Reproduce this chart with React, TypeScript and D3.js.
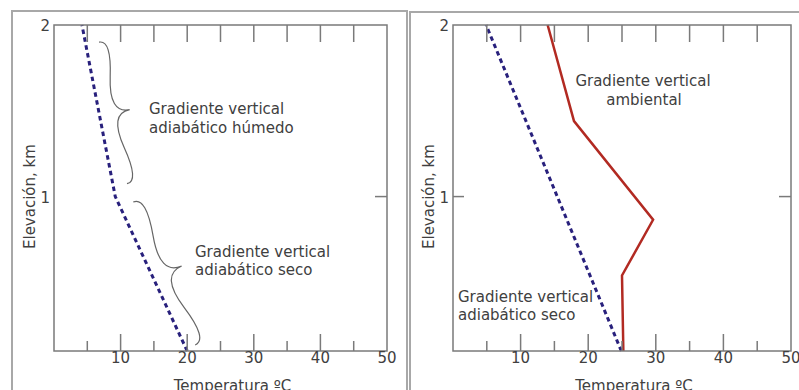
import React from 'react';
import * as d3 from 'd3';

// temperature (ºC) / elevation (km) pairs
const leftAdiabat: [number, number][] = [
  [20, 0.1],
  [9.2, 1.0],
  [4.2, 2.0],
];
const rightAdiabat: [number, number][] = [
  [24.9, 0.1],
  [4.9, 2.0],
];
const ambient: [number, number][] = [
  [25.2, 0.1],
  [25.0, 0.54],
  [29.6, 0.865],
  [17.9, 1.44],
  [14.0, 2.0],
];

const xTicks = [5, 10, 15, 20, 25, 30, 35, 40, 45];
const xTickLabels = [10, 20, 30, 40, 50];
const yTickLabels = [1, 2];

// brace ends [t, z] (lower end first)
const moistBrace: [number, number][] = [
  [10.96, 1.075],
  [6.76, 1.9],
];
const dryBrace: [number, number][] = [
  [21.2, 0.135],
  [11.9, 0.968],
];

const W = 799;
const H = 390;
const FONT = 'DejaVu Sans, Verdana, sans-serif';
const TEXT = '#404040';
const AXIS = '#7a7a7a';

function bracePath(x1: number, y1: number, x2: number, y2: number, w: number, q: number) {
  let dx = x1 - x2;
  let dy = y1 - y2;
  const len = Math.sqrt(dx * dx + dy * dy);
  dx /= len;
  dy /= len;
  const qx1 = x1 + q * w * dy;
  const qy1 = y1 - q * w * dx;
  const qx2 = x1 - 0.25 * len * dx + (1 - q) * w * dy;
  const qy2 = y1 - 0.25 * len * dy - (1 - q) * w * dx;
  const tx = x1 - 0.5 * len * dx + w * dy;
  const ty = y1 - 0.5 * len * dy - w * dx;
  const qx3 = x2 + q * w * dy;
  const qy3 = y2 - q * w * dx;
  const qx4 = x1 - 0.75 * len * dx + (1 - q) * w * dy;
  const qy4 = y1 - 0.75 * len * dy - (1 - q) * w * dx;
  return `M${x1},${y1}Q${qx1},${qy1} ${qx2},${qy2}T${tx},${ty}M${x2},${y2}Q${qx3},${qy3} ${qx4},${qy4}T${tx},${ty}`;
}

type PanelProps = {
  x0: number;
  x1: number;
  leftTick: boolean;
  children: (x: d3.ScaleLinear<number, number>, y: d3.ScaleLinear<number, number>) => React.ReactNode;
};

function Panel({ x0, x1, leftTick, children }: PanelProps) {
  const x = d3.scaleLinear().domain([0, 50]).range([x0, x1]);
  const y = d3.scaleLinear().domain([0.1, 2]).range([351, 25]);
  const bottom = y(0.1);
  const top = y(2);
  const mid = (x0 + x1) / 2;

  return (
    <g>
      {children(x, y)}
      <rect x={x0} y={top} width={x1 - x0} height={bottom - top} fill="none" stroke={AXIS} strokeWidth={1.5} />
      {xTicks.map(t => (
        <g key={t} stroke={AXIS} strokeWidth={1.5}>
          <line x1={x(t)} x2={x(t)} y1={bottom} y2={bottom - (t % 10 === 0 ? 17 : 10)} />
          <line x1={x(t)} x2={x(t)} y1={top} y2={top + 17} />
        </g>
      ))}
      <line x1={x1} x2={x1 - 12} y1={y(1)} y2={y(1)} stroke={AXIS} strokeWidth={1.5} />
      {leftTick && <line x1={x0} x2={x0 + 11} y1={y(1)} y2={y(1)} stroke={AXIS} strokeWidth={1.5} />}
      {xTickLabels.map(t => (
        <text key={t} x={x(t)} y={bottom + 12} textAnchor="middle" fontSize={15} fontFamily={FONT} fill={TEXT}>
          {t}
        </text>
      ))}
      {yTickLabels.map(t => (
        <text key={t} x={x0 - 4} y={y(t) + 6} textAnchor="end" fontSize={15} fontFamily={FONT} fill={TEXT}>
          {t}
        </text>
      ))}
      <text x={mid + 12} y={bottom + 40} textAnchor="middle" fontSize={15} fontFamily={FONT} fill={TEXT}>
        Temperatura ºC
      </text>
      <text
        transform={`translate(${x0 - 19},${y(1)}) rotate(-90)`}
        textAnchor="middle"
        fontSize={15}
        fontFamily={FONT}
        fill={TEXT}
      >
        Elevación, km
      </text>
    </g>
  );
}

export default function App() {
  const line = (x: d3.ScaleLinear<number, number>, y: d3.ScaleLinear<number, number>) =>
    d3
      .line<[number, number]>()
      .x(d => x(d[0]))
      .y(d => y(d[1]));

  const brace = (
    x: d3.ScaleLinear<number, number>,
    y: d3.ScaleLinear<number, number>,
    ends: [number, number][],
    w: number
  ) => bracePath(x(ends[0][0]), y(ends[0][1]), x(ends[1][0]), y(ends[1][1]), w, 0.75);

  const label = { fontSize: 15, fontFamily: FONT, fill: TEXT };

  return (
    <svg width={W} height={H} style={{ position: 'absolute', left: 0, top: 0, background: '#fff' }}>
      <rect x={12} y={11} width={395} height={400} fill="none" stroke="#a8a8a8" strokeWidth={2} />
      <rect x={410} y={12} width={400} height={400} fill="none" stroke="#a8a8a8" strokeWidth={2} />

      <Panel x0={54} x1={387} leftTick={false}>
        {(x, y) => (
          <g>
            <path d={brace(x, y, moistBrace, 17)} fill="none" stroke="#666" strokeWidth={1.2} />
            <path d={brace(x, y, dryBrace, 19)} fill="none" stroke="#666" strokeWidth={1.2} />
            <path
              d={line(x, y)(leftAdiabat) ?? ''}
              fill="none"
              stroke="#28207c"
              strokeWidth={3}
              strokeDasharray="4.5,3.5"
            />
            <text x={149} y={114} {...label}>Gradiente vertical</text>
            <text x={149} y={133} {...label}>adiabático húmedo</text>
            <text x={195} y={257} {...label}>Gradiente vertical</text>
            <text x={195} y={275} {...label}>adiabático seco</text>
          </g>
        )}
      </Panel>

      <Panel x0={453} x1={791} leftTick={true}>
        {(x, y) => (
          <g>
            <path
              d={line(x, y)(rightAdiabat) ?? ''}
              fill="none"
              stroke="#28207c"
              strokeWidth={3}
              strokeDasharray="4.5,3.5"
            />
            <path d={line(x, y)(ambient) ?? ''} fill="none" stroke="#b22a22" strokeWidth={2.5} />
            <text x={643} y={86} textAnchor="middle" {...label}>Gradiente vertical</text>
            <text x={644} y={105} textAnchor="middle" {...label}>ambiental</text>
            <text x={458} y={302} {...label}>Gradiente vertical</text>
            <text x={458} y={320} {...label}>adiabático seco</text>
          </g>
        )}
      </Panel>
    </svg>
  );
}
